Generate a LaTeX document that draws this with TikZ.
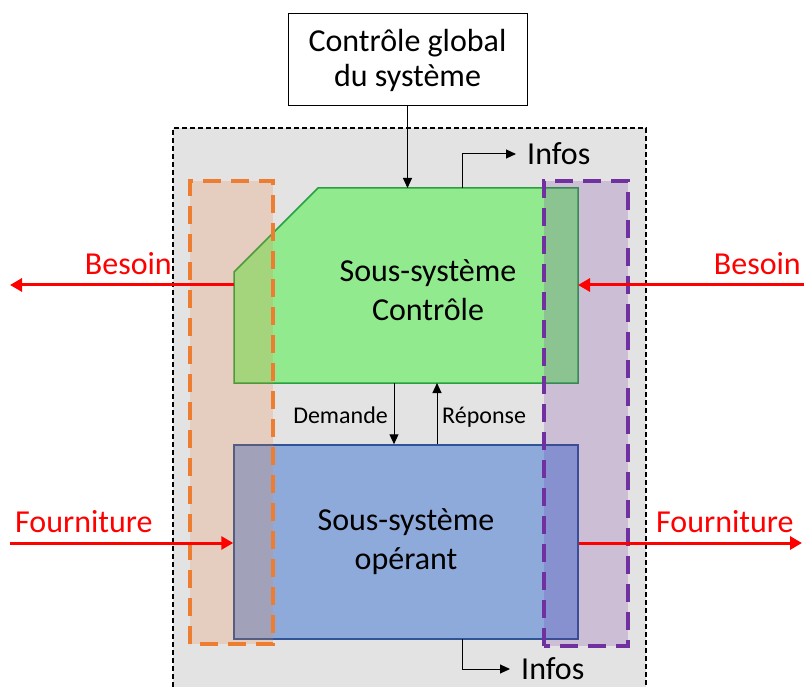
\documentclass[tikz,border=0pt]{standalone}
\usepackage{fontspec}
\setmainfont{Carlito}
\usetikzlibrary{arrows.meta}
\definecolor{bggray}{RGB}{227,227,227}
\definecolor{ctlfill}{RGB}{146,234,142}
\definecolor{ctlline}{RGB}{40,160,64}
\definecolor{opfill}{RGB}{142,170,219}
\definecolor{opline}{RGB}{47,85,151}
\definecolor{orng}{RGB}{237,125,49}
\definecolor{purp}{RGB}{112,48,160}
\definecolor{redline}{RGB}{255,0,0}
\tikzset{
  bigtext/.style={font=\fontsize{32}{39}\selectfont},
  smalltext/.style={font=\fontsize{24}{29}\selectfont, inner sep=0pt},
  infotext/.style={bigtext, inner xsep=11pt, inner ysep=0pt},
  blk/.style={draw=black, line width=1pt, -{Triangle[length=10pt,width=9pt]}},
  redarrow/.style={draw=redline, line width=3pt, -{Triangle[length=12pt,width=13pt]}},
  redlabel/.style={bigtext, text=redline, inner sep=0pt},
  zone/.style={line width=4pt, dash pattern=on 18pt off 10pt},
}
\begin{document}
\begin{tikzpicture}[x=1pt,y=-1pt]
\useasboundingbox (0,0) rectangle (804,687);
% system frame
\fill[bggray] (173,128) rectangle (646,687);
\draw[black, line width=1.6pt, dash pattern=on 5pt off 3pt] (173,687) -- (173,128) -- (646,128) -- (646,687);
% global control box
\node[draw=black, line width=1pt, fill=white, minimum width=239pt, minimum height=92pt, inner sep=0pt,
      align=center, font=\fontsize{32}{35}\selectfont] (top) at (407.5,60) {\raisebox{-2pt}{Contrôle global}\\\raisebox{-2pt}{du système}};
% control subsystem (chamfered)
\coordinate (g1) at (318,188);
\coordinate (g2) at (578,188);
\coordinate (g3) at (578,383);
\coordinate (g4) at (234,383);
\coordinate (g5) at (234,272);
\filldraw[fill=ctlfill, draw=ctlline, line width=1.5pt] (g1) -- (g2) -- (g3) -- (g4) -- (g5) -- cycle;
\node[bigtext, align=center] (ctl) at (428,290) {Sous-système\\Contrôle};
% operating subsystem
\node[draw=opline, fill=opfill, line width=1.5pt, minimum width=344pt, minimum height=194pt,
      inner sep=0pt, bigtext, align=center] (op) at (406,542) {Sous-système\\opérant};
% overlay zones
\fill[orng, fill opacity=0.2] (190,181) rectangle (273,644);
\draw[orng, zone] (190,644) -- (190,181) -- (273,181) -- (273,644) -- cycle;
\fill[purp, fill opacity=0.2] (544,181) rectangle (628,646);
\draw[purp, zone] (544,646) -- (544,181) -- (628,181) -- (628,646) -- cycle;
% control links
\coordinate (gtop) at (407.5,188);
\draw[blk] (top.south) -- (gtop);
\coordinate (d1) at (394,383);
\draw[blk] (d1) -- (d1 |- op.north);
\coordinate (r1) at (437,383);
\draw[blk] (r1 |- op.north) -- (r1);
\node[smalltext, anchor=base east] (dem) at (388,423) {Demande};
\node[smalltext, anchor=base west] (rep) at (442,423) {Réponse};
% infos
\node[infotext, anchor=west] (infos1) at (516,154) {Infos};
\coordinate (i1) at (462,188);
\draw[blk] (i1) |- (infos1.west);
\node[infotext, anchor=west] (infos2) at (510,669) {Infos};
\coordinate (i2) at (462,639);
\draw[blk] (i2) |- (infos2.west);
% needs and supplies
\coordinate (gl) at (234,285);
\coordinate (bl) at (10,285);
\draw[redarrow] (gl) -- (bl);
\node[redlabel, anchor=base east] (besoinl) at (172,275) {Besoin};
\coordinate (br) at (804,285);
\coordinate (gr) at (578,285);
\draw[redarrow] (br) -- (gr);
\node[redlabel, anchor=base east] (besoinr) at (801,275) {Besoin};
\coordinate (fl) at (10,543);
\draw[redarrow] (fl) -- (op.west |- fl);
\node[redlabel, anchor=base west] (fournl) at (15,532) {Fourniture};
\coordinate (fr) at (802,543);
\draw[redarrow] (op.east |- fr) -- (fr);
\node[redlabel, anchor=base west] (fournr) at (656,532) {Fourniture};
\end{tikzpicture}
\end{document}
